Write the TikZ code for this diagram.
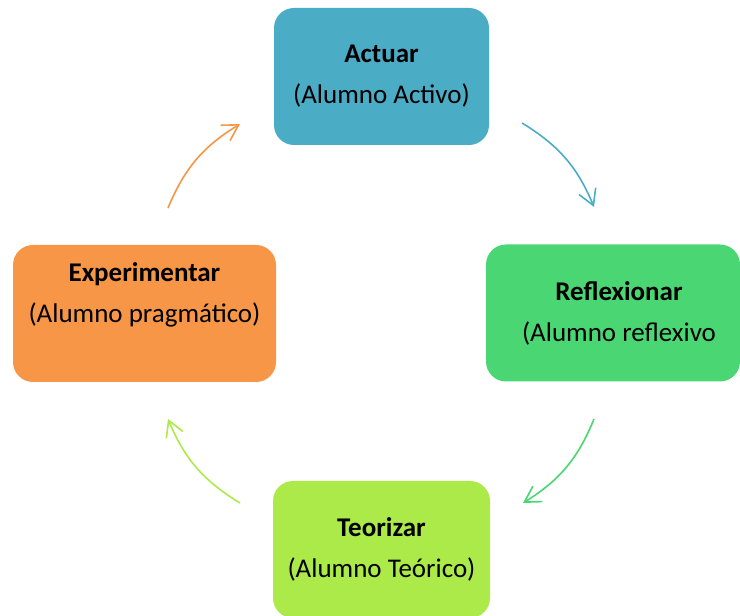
\documentclass[tikz,border=0pt]{standalone}
\usepackage{fontspec}
\setmainfont{Carlito}
\usetikzlibrary{arrows.meta}

\definecolor{actuarc}{HTML}{4BACC6}
\definecolor{reflexc}{HTML}{4AD773}
\definecolor{teoric}{HTML}{ACEA4A}
\definecolor{experc}{HTML}{F79646}

\tikzset{
    etapa/.style = {rounded corners=20pt, inner sep=0pt, align=center,
                    font=\fontsize{27}{41}\selectfont, minimum height=137pt},
    ciclo/.style = {line width=1.6pt, arrows = -{Straight Barb[angle=60:18pt]}}
}

\begin{document}
\begin{tikzpicture}[x=1pt,y=1pt]

            %\draw [help lines] (0,0) grid[step=50] (740,616);
            \useasboundingbox (0,0) rectangle (740,616);

            \path   (381.5,539.5) node (act) [etapa,fill=actuarc,minimum width=215pt] {\textbf{Actuar}\\(Alumno Activo)}
                    (613,303)     node (ref) [etapa,fill=reflexc,minimum width=254pt] {\hspace*{12pt}\textbf{Reflexionar}\\\hspace*{12pt}(Alumno reflexivo}
                    (381.5,66.5)  node (teo) [etapa,fill=teoric,minimum width=217pt] {\textbf{Teorizar}\\(Alumno Teórico)}
                    (144.5,302.5) node (exp) [etapa,fill=experc,minimum width=263pt] {\textbf{Experimentar}\\(Alumno pragmático)\\\mbox{}};

            \path   (522,493) coordinate (act-out)
                    (594,409) coordinate (ref-in)
                    (594,197) coordinate (ref-out)
                    (523,113) coordinate (teo-in)
                    (240,113) coordinate (teo-out)
                    (168,197) coordinate (exp-in)
                    (168,408) coordinate (exp-out)
                    (240,492) coordinate (act-in);

            \draw[ciclo,actuarc] (act-out) to[bend left=18] (ref-in);
            \draw[ciclo,reflexc] (ref-out) to[bend left=18] (teo-in);
            \draw[ciclo,teoric]  (teo-out) to[bend left=18] (exp-in);
            \draw[ciclo,experc]  (exp-out) to[bend left=18] (act-in);

        \end{tikzpicture}
\end{document}
